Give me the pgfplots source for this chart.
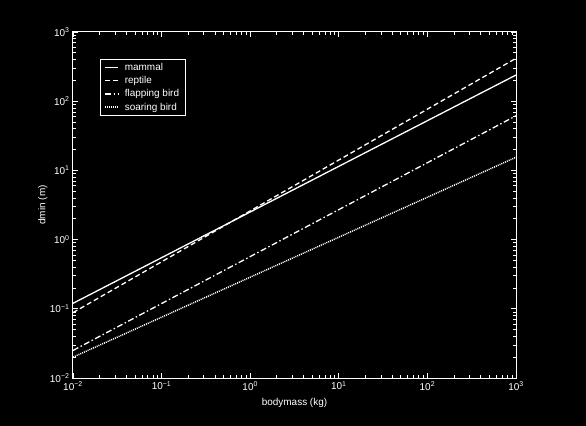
\documentclass[border=0pt]{standalone}
\usepackage{fontspec}
\setmainfont{Liberation Sans}
\usepackage{pgfplots}
\pgfplotsset{compat=1.18}

\begin{document}
\begin{tikzpicture}
\fill[black] (-73bp,-48bp) rectangle (513bp,378bp);
\begin{axis}[
    xmode=log, ymode=log,
    scale only axis,
    width=443bp, height=346bp,
    xmin=0.01, xmax=1000,
    ymin=0.01, ymax=1000,
    axis line style={white, line width=1bp},
    every tick/.style={white, line width=0.8bp},
    tick align=inside,
    major tick length=5bp,
    minor tick length=3bp,
    xtick={0.01,0.1,1,10,100,1000},
    ytick={0.01,0.1,1,10,100,1000},
    xticklabels={10\textsuperscript{−2},10\textsuperscript{−1},10\textsuperscript{0},10\textsuperscript{1},10\textsuperscript{2},10\textsuperscript{3}},
    yticklabels={10\textsuperscript{−2},10\textsuperscript{−1},10\textsuperscript{0},10\textsuperscript{1},10\textsuperscript{2},10\textsuperscript{3}},
    tick label style={text=white, font=\fontsize{10}{12}\selectfont},
    xlabel={bodymass (kg)},
    ylabel={dmin (m)},
    label style={text=white, font=\fontsize{10}{12}\selectfont},
    xlabel style={at={(axis description cs:0.5,-0.072)}, anchor=center},
    ylabel style={at={(axis description cs:-0.068,0.5)}, anchor=center},
    legend cell align=left,
    legend style={
        at={(axis description cs:0.061,0.922)}, anchor=north west,
        draw=white, fill=black, text=white, line width=0.6bp,
        font=\fontsize{10}{12}\selectfont,
        row sep=0.5bp, inner xsep=4bp, inner ysep=2bp,
        /tikz/every odd column/.append style={column sep=4bp},
    },
    legend image code/.code={\draw[#1] (3bp,0bp) -- (16bp,0bp);},
]
\addplot[white, line width=1.3bp] coordinates {(0.01,0.12) (1000,239)};
\addlegendentry{mammal}
\addplot[white, line width=1.3bp, dash pattern=on 5bp off 3bp] coordinates {(0.01,0.088) (1000,417)};
\addlegendentry{reptile}
\addplot[white, line width=1.3bp, dash pattern=on 6bp off 2.5bp on 1.5bp off 2.5bp] coordinates {(0.01,0.025) (1000,61.6)};
\addlegendentry{flapping bird}
\addplot[white, line width=1.5bp, dash pattern=on 1bp off 1bp] coordinates {(0.01,0.020) (1000,15.5)};
\addlegendentry{soaring bird}
\end{axis}
\end{tikzpicture}
\end{document}
